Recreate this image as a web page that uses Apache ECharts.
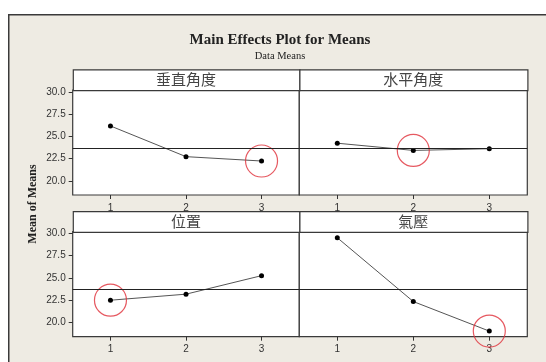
<!DOCTYPE html>
<html>
<head>
<meta charset="utf-8">
<script src="https://cdn.jsdelivr.net/npm/echarts@6/dist/echarts.min.js"></script>
<style>
html,body{margin:0;padding:0;background:#fff;}
#chart{width:546px;height:362px;}
</style>
</head>
<body>
<div id="chart"></div>
<script>
// ---- data ----
var categories = ['1', '2', '3'];
var factors = ['垂直角度', '水平角度', '位置', '氣壓'];
var verticalAngle = [26.16, 22.71, 22.22];
var horizontalAngle = [24.22, 23.41, 23.60];
var position = [22.50, 23.18, 25.26];
var pressure = [29.52, 22.35, 19.03];
var grandMean = 23.68;
var yTicks = [20.0, 22.5, 25.0, 27.5, 30.0];
var highlighted = [2, 1, 0, 2]; // index of circled level per factor
var mainTitle = 'Main Effects Plot for Means';
var subTitle = 'Data Means';
var yTitle = 'Mean of Means';

var seriesValues = [verticalAngle, horizontalAngle, position, pressure];

// ---- layout ----
var panels = [
  {left: 72.7, top: 90, width: 226.6, height: 105},
  {left: 299.3, top: 90, width: 228, height: 105},
  {left: 72.7, top: 231.7, width: 226.6, height: 105},
  {left: 299.3, top: 231.7, width: 228, height: 105}
];
var stripH = 20.7;
var yMin = 18.4, yMax = 30.2;

var chart = echarts.init(document.getElementById('chart'), null, {renderer: 'canvas'});

var grids = [], xAxes = [], yAxes = [], series = [], graphics = [];

graphics.push({
  type: 'rect', left: 8, top: 14, z: -10,
  shape: {width: 560, height: 360},
  style: {fill: '#EEEBE3', stroke: '#3a3a3a', lineWidth: 1.5}
});
graphics.push({
  type: 'text', x: 280, y: 40, z: 10,
  style: {text: mainTitle, fill: '#222', font: 'bold 15px "Liberation Serif"', textAlign: 'center', textVerticalAlign: 'middle'}
});
graphics.push({
  type: 'text', x: 280, y: 56, z: 10,
  style: {text: subTitle, fill: '#222', font: '10.5px "Liberation Serif"', textAlign: 'center', textVerticalAlign: 'middle'}
});
graphics.push({
  type: 'text', x: 32.5, y: 204, rotation: Math.PI / 2, z: 10,
  style: {text: yTitle, fill: '#222', font: 'bold 12px "Liberation Serif"', textAlign: 'center', textVerticalAlign: 'middle'}
});

panels.forEach(function (p, i) {
  var isLeft = (i % 2 === 0);
  grids.push({
    left: p.left, top: p.top, width: p.width, height: p.height,
    show: true, backgroundColor: '#fff', borderColor: '#3a3a3a', borderWidth: 1.2
  });
  graphics.push({
    type: 'rect', left: p.left, top: p.top - stripH, z: 5,
    shape: {width: p.width, height: stripH},
    style: {fill: '#fff', stroke: '#3a3a3a', lineWidth: 1.2}
  });
  graphics.push({
    type: 'text', x: p.left + p.width / 2, y: p.top - stripH / 2, z: 6,
    style: {text: factors[i], fill: '#444', font: '15px "Noto Sans CJK TC"', textAlign: 'center', textVerticalAlign: 'middle'}
  });
  xAxes.push({
    gridIndex: i, type: 'category', data: categories, boundaryGap: true,
    axisLine: {show: false},
    axisTick: {show: true, alignWithLabel: true, length: 4, lineStyle: {color: '#333'}},
    axisLabel: {show: true, margin: 8, color: '#333', fontSize: 10, fontFamily: 'Liberation Sans'},
    splitLine: {show: false}
  });
  yAxes.push({
    gridIndex: i, type: 'value', min: yMin, max: yMax,
    axisLine: {show: false},
    axisTick: {show: isLeft, length: 4, customValues: yTicks, lineStyle: {color: '#333'}},
    axisLabel: {show: isLeft, margin: 7, color: '#333', fontSize: 10, fontFamily: 'Liberation Sans',
      customValues: yTicks, formatter: function (v) { return Number(v).toFixed(1); }},
    splitLine: {show: false}
  });
  series.push({
    type: 'line', xAxisIndex: i, yAxisIndex: i,
    data: seriesValues[i],
    symbol: 'circle', symbolSize: 5,
    itemStyle: {color: '#000'},
    lineStyle: {color: '#555', width: 1},
    animation: false, z: 3,
    markLine: {
      silent: true, symbol: 'none', animation: false,
      label: {show: false},
      lineStyle: {color: '#222', width: 1, type: 'solid'},
      data: [{yAxis: grandMean}]
    }
  });
  series.push({
    type: 'scatter', xAxisIndex: i, yAxisIndex: i,
    data: [[highlighted[i], seriesValues[i][highlighted[i]]]],
    symbol: 'circle', symbolSize: 32,
    itemStyle: {color: 'rgba(0,0,0,0)', borderColor: '#E0303A', borderWidth: 1.2},
    animation: false, z: 4, silent: true
  });
});

chart.setOption({
  backgroundColor: '#fff',
  animation: false,
  grid: grids,
  xAxis: xAxes,
  yAxis: yAxes,
  series: series,
  graphic: graphics
});
</script>
</body>
</html>
